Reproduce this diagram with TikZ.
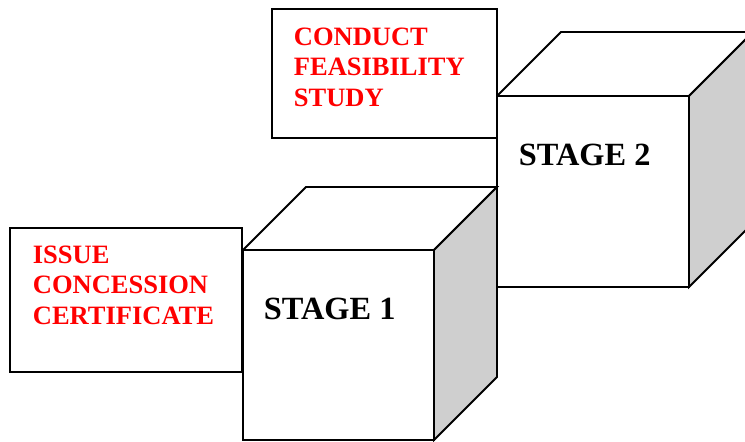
\documentclass[tikz,border=0pt]{standalone}
\usepackage{fontspec}
\setmainfont{Liberation Serif}
\begin{document}
\begin{tikzpicture}[x=1bp,y=-1bp,line width=1.8bp,
  face/.style={draw=black,fill=white,inner sep=0pt,outer sep=0pt,anchor=north west},
  taskbox/.style={draw=black,fill=white,inner sep=0pt,outer sep=0pt,anchor=north west},
  tasktext/.style={text=red,font=\bfseries\fontsize{26.6}{30}\selectfont,inner sep=0pt,anchor=base west},
  stagetext/.style={text=black,font=\bfseries\fontsize{32.5}{36}\selectfont,inner sep=0pt,anchor=base west},
  side/.style={draw=black,fill=black!19},
  top/.style={draw=black,fill=white}]
\useasboundingbox (0,0) rectangle (745,442);
\clip (0,0) rectangle (745,442);

% Stage 2 cube
\node[face,minimum width=192bp,minimum height=191bp] (f2) at (497,96) {};
\draw[top] (f2.north west) -- ++(64,-64) -- ++(192,0) -- (f2.north east) -- cycle;
\draw[side] (f2.north east) -- ++(64,-64) -- ++(0,191) -- (f2.south east) -- cycle;
\node[stagetext] (s2) at (518,166) {STAGE 2};

% Feasibility study box
\node[taskbox,minimum width=225bp,minimum height=129bp] (study) at (272,9) {};
\node[tasktext] (t1) at (293,46) {CONDUCT};
\node[tasktext] (t2) at (293,76) {FEASIBILITY};
\node[tasktext] (t3) at (293,107) {STUDY};

% Stage 1 cube
\node[face,minimum width=191bp,minimum height=190bp] (f1) at (243,250) {};
\draw[top] (f1.north west) -- ++(63,-63) -- ++(191,0) -- (f1.north east) -- cycle;
\draw[side] (f1.north east) -- ++(63,-63) -- ++(0,190) -- (f1.south east) -- cycle;
\node[stagetext] (s1) at (263,320) {STAGE 1};

% Concession certificate box
\node[taskbox,minimum width=232bp,minimum height=144bp] (issue) at (10,228) {};
\node[tasktext] (c1) at (32,264) {ISSUE};
\node[tasktext] (c2) at (32,294) {CONCESSION};
\node[tasktext] (c3) at (32,325) {CERTIFICATE};
\end{tikzpicture}
\end{document}
